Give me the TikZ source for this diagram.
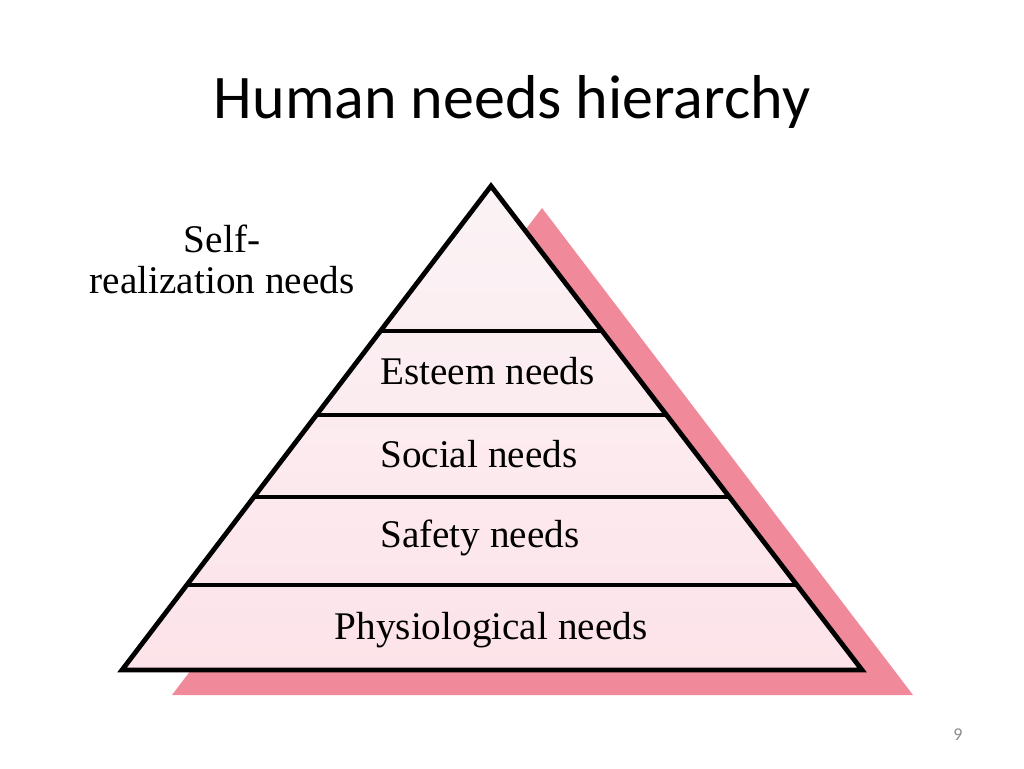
\documentclass[tikz,border=0pt]{standalone}
\usepackage{fontspec}
\setmainfont{Liberation Serif}
\newfontfamily\titlefont{Carlito}
\usetikzlibrary{calc}
\definecolor{shadowpink}{HTML}{F08A9B}
\definecolor{fillTop}{HTML}{FBF3F5}
\definecolor{fillBot}{HTML}{FCE3E9}
\definecolor{pagegray}{HTML}{8C8C8C}
\begin{document}
\begin{tikzpicture}[x=0.75pt,y=-0.75pt,
  levellabel/.style={font=\fontsize{29.4}{34}\selectfont, inner sep=0pt, text=black},
  outline/.style={line width=3.6pt, line join=miter, draw=black},
  divider/.style={line width=3.6pt, draw=black}]
\useasboundingbox (0,0) rectangle (1024,768);
% title
\node[font=\titlefont\fontsize{46.5}{50}\selectfont, anchor=base, inner sep=0pt] (title) at (512,118) {Human needs hierarchy};
% pyramid corners
\coordinate (apex) at (491,186);
\coordinate (bl) at (122,670);
\coordinate (br) at (862,670);
% shadow
\fill[shadowpink] (542,208) -- (913,695) -- (172,695) -- cycle;
% pyramid body
\shade[top color=fillTop, bottom color=fillBot] (apex) -- (br) -- (bl) -- cycle;
% dividers
\foreach \t/\n in {0.2996/a,0.4731/b,0.6426/c,0.8244/d}{
  \coordinate (l\n) at ($(apex)!\t!(bl)$);
  \coordinate (r\n) at ($(apex)!\t!(br)$);
  \draw[divider] (l\n) -- (r\n);
}
\draw[outline] (apex) -- (br) -- (bl) -- cycle;
% labels
\node[levellabel, anchor=base] (self1) at (222,252) {Self-};
\node[levellabel, anchor=base] (self2) at (222,293) {realization needs};
\node[levellabel, anchor=base west] (esteem) at (380,384) {Esteem needs};
\node[levellabel, anchor=base west] (social) at (380,467) {Social needs};
\node[levellabel, anchor=base west] (safety) at (380,547) {Safety needs};
\node[levellabel, anchor=base] (physio) at (491,639) {Physiological needs};
% page number
\node[font=\titlefont\fontsize{13.5}{15}\selectfont, text=pagegray, anchor=base, inner sep=0pt] (page) at (958,740) {9};
\end{tikzpicture}
\end{document}
